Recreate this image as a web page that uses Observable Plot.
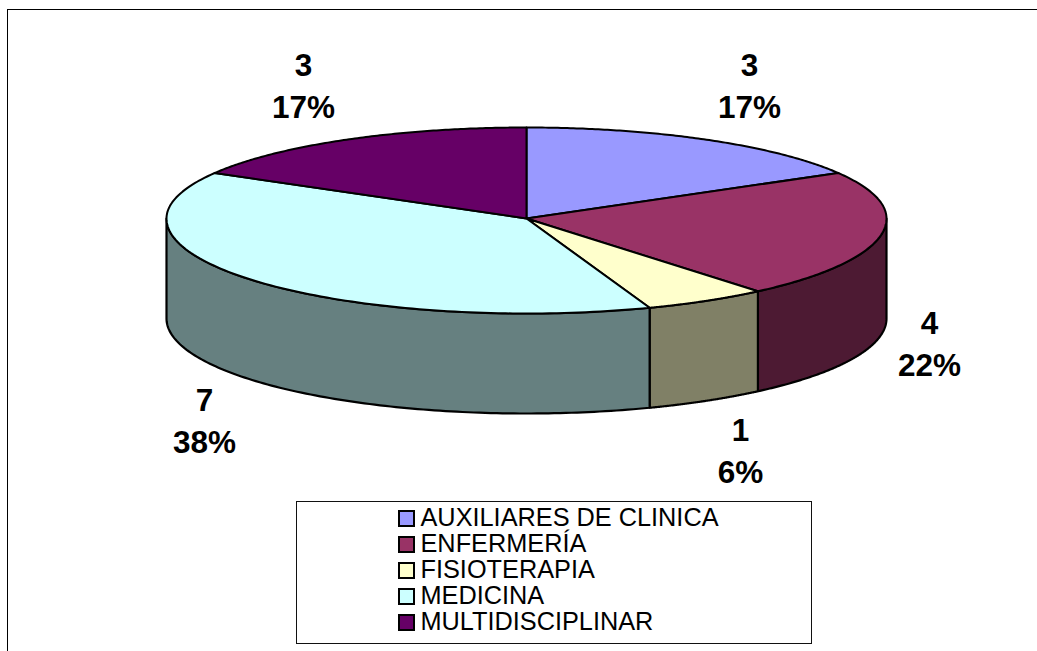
<!DOCTYPE html>
<html><head><meta charset="utf-8">
<script src="https://cdn.jsdelivr.net/npm/d3@7"></script>
<script src="https://cdn.jsdelivr.net/npm/@observablehq/plot@0.6"></script>
<style>
html,body{margin:0;padding:0;background:#fff;width:1037px;height:651px;overflow:hidden}
#wrap{position:relative;width:1037px;height:651px;font-family:"Liberation Sans",Arial,sans-serif}
#wrap svg{position:absolute;left:0;top:0}
#frame{position:absolute;left:7px;top:9px;width:1040px;height:660px;border:1.5px solid #000;box-sizing:border-box}
#legend{position:absolute;left:296px;top:501px;width:516px;height:143px;border:1.5px solid #111;box-sizing:border-box;background:#fff}
.row{position:absolute;left:100.5px;height:22px;line-height:22px;display:flex;align-items:center;font-size:25.3px;color:#000;white-space:nowrap}
.row span{line-height:22px}
.sw{width:13px;height:13px;border:2px solid #000;box-sizing:content-box;margin-right:6px;flex:none;position:relative;top:2px}
</style></head><body>
<div id="wrap"><div id="frame"></div><div id="chart"></div><div id="legend"></div></div>
<script>
const categories = ["AUXILIARES DE CLINICA","ENFERMERÍA","FISIOTERAPIA","MEDICINA","MULTIDISCIPLINAR"];
const counts = [3,4,1,7,3];
const percents = ["17%","22%","6%","38%","17%"];
const topColors = ["#9999FF","#993366","#FFFFCC","#CCFFFF","#660066"];
const sideColors = ["#4D4D80","#4D1A33","#808066","#668080","#330033"];

// label placement relative to the chart (pixels), apart from the data
const labelX = [749,929,740,204,303];
const labelY = [65.5,323.5,430.5,400.5,65.5];
const rowTops = [3.5,29.5,55.5,81.5,107.5];

const frontStretch = 95/91, depth = 100/91;
const total = d3.sum(counts);
const px = t => Math.sin(t);
const py = t => { const c = Math.cos(t); return c < 0 ? c*frontStretch : c; };
const arc = (a,b) => d3.range(0,121).map(i => a+(b-a)*i/120);

let acc = 0;
const slices = categories.map((name,i) => {
  const a = acc/total*2*Math.PI; acc += counts[i]; const b = acc/total*2*Math.PI;
  return {name,i,a,b};
});

const topFace = s => {
  const pts = arc(s.a,s.b).map(t => ({x:px(t),y:py(t)}));
  return [{x:0,y:0},...pts,{x:0,y:0}];
};
const sideFace = s => {
  const a = Math.max(s.a,Math.PI/2), b = Math.min(s.b,3*Math.PI/2);
  if (a >= b) return null;
  const ts = arc(a,b);
  const upper = ts.map(t => ({x:px(t),y:py(t)}));
  const lower = ts.slice().reverse().map(t => ({x:px(t),y:py(t)-depth}));
  return [...upper,...lower,upper[0]];
};

const marks = [];
slices.forEach(s => { const f = sideFace(s); if (f) marks.push(Plot.line(f,{x:"x",y:"y",fill:sideColors[s.i],stroke:"#000",strokeWidth:2.2,curve:"linear"})); });
slices.forEach(s => marks.push(Plot.line(topFace(s),{x:"x",y:"y",fill:topColors[s.i],stroke:"#000",strokeWidth:2,curve:"linear",strokeLinejoin:"round"})));

const fontOpts = {fontFamily:"'Liberation Sans',Arial,sans-serif",fontSize:31.5,fontWeight:"bold",fill:"#000",textAnchor:"middle",lineAnchor:"middle"};
const sx = d3.scaleLinear([166,886],[-1,1]), sy = d3.scaleLinear([127,309],[1,-1]);
marks.push(Plot.text(slices,{x:s=>sx(labelX[s.i]),y:s=>sy(labelY[s.i]),text:s=>String(counts[s.i]),...fontOpts}));
marks.push(Plot.text(slices,{x:s=>sx(labelX[s.i]),y:s=>sy(labelY[s.i]+42),text:s=>percents[s.i],...fontOpts}));

const plot = Plot.plot({
  width:1037,height:651,margin:0,
  style:{background:"transparent",overflow:"visible"},
  x:{domain:[-1,1],range:[166,886],axis:null},
  y:{domain:[1,-1],range:[127,309],axis:null},
  marks
});
document.getElementById("chart").append(plot);

const legend = document.getElementById("legend");
categories.forEach((name,i) => {
  const r = document.createElement("div"); r.className="row"; r.style.top = rowTops[i]+"px";
  const sw = document.createElement("span"); sw.className="sw"; sw.style.background = topColors[i];
  const t = document.createElement("span"); t.textContent = name;
  r.append(sw,t); legend.append(r);
});
</script></body></html>
